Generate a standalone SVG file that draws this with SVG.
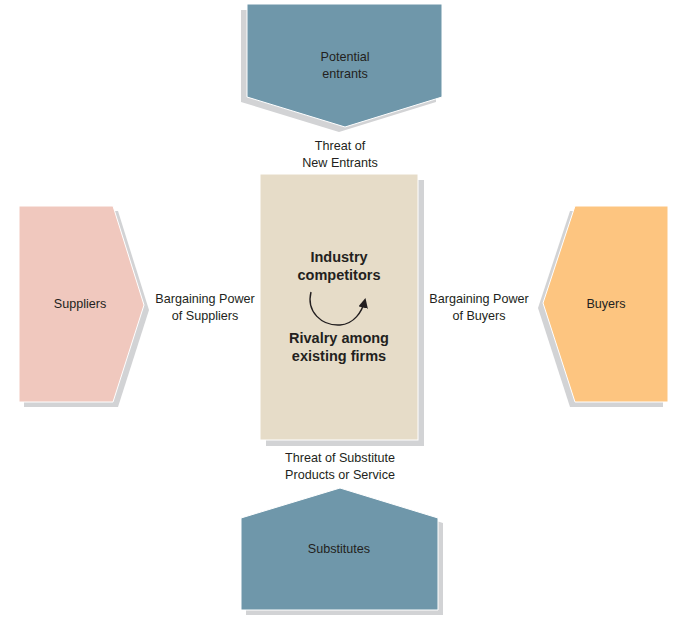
<svg xmlns="http://www.w3.org/2000/svg" width="685" height="620" viewBox="0 0 685 620">
<defs>
<style>
.shadow{fill:#d2d3d5}
.shape{stroke:#ffffff;stroke-width:1}
.lbl{font-family:"Liberation Sans",Arial,sans-serif;font-size:12.6px;fill:#231f20;text-anchor:middle}
.bold{font-family:"Liberation Sans",Arial,sans-serif;font-size:14.5px;font-weight:bold;fill:#231f20;text-anchor:middle}
.blue{fill:#6f97aa}
</style>
<marker id="ah" viewBox="0 0 10 10" refX="8" refY="5" markerWidth="7" markerHeight="7" orient="auto">
<path d="M0,0 L10,5 L0,10 z" fill="#231f20"/>
</marker>
</defs>
<rect width="685" height="620" fill="#ffffff"/>

<g id="potential-entrants">
<polygon class="shadow" points="241,10 436,10 436,102 339,132 241,102"/>
<polygon class="blue shape" points="247,4 442,4 442,97 345,127 247,97"/>
<text class="lbl" x="345" y="61">Potential</text>
<text class="lbl" x="345" y="78">entrants</text>
</g>

<g id="suppliers">
<polygon class="shadow" points="24,211 118,211 149,310 118,407 24,407"/>
<polygon class="shape" fill="#f0c8be" points="19,206 113,206 144,305 113,402 19,402"/>
<text class="lbl" x="80" y="308">Suppliers</text>
</g>

<g id="buyers">
<polygon class="shadow" points="570,211 663,211 663,407 570,407 538,308"/>
<polygon class="shape" fill="#fdc580" points="575,206 668,206 668,402 575,402 543,303"/>
<text class="lbl" x="606" y="308">Buyers</text>
</g>

<g id="industry-competitors">
<rect class="shadow" x="266" y="180" width="158" height="266"/>
<rect class="shape" fill="#e6dcc8" x="260" y="174" width="158" height="266"/>
<text class="bold" x="339" y="262">Industry</text>
<text class="bold" x="339" y="280">competitors</text>
<text class="bold" x="339" y="343">Rivalry among</text>
<text class="bold" x="339" y="361">existing firms</text>
</g>

<g id="substitutes">
<polygon class="shadow" points="246,523 345,493 443,523 443,615 246,615"/>
<polygon class="blue shape" points="241,518 340,488 438,518 438,610 241,610"/>
<text class="lbl" x="339" y="553">Substitutes</text>
</g>

<g id="connectors">
<path d="M311,292 C306,312 322,326 340,325 C354,324 362,312 365,300" fill="none" stroke="#231f20" stroke-width="1.4" marker-end="url(#ah)"/>
<text class="lbl" x="340" y="150">Threat of</text>
<text class="lbl" x="340" y="167">New Entrants</text>
<text class="lbl" x="205" y="303">Bargaining Power</text>
<text class="lbl" x="205" y="320">of Suppliers</text>
<text class="lbl" x="479" y="303">Bargaining Power</text>
<text class="lbl" x="479" y="320">of Buyers</text>
<text class="lbl" x="340" y="462">Threat of Substitute</text>
<text class="lbl" x="340" y="479">Products or Service</text>
</g>
</svg>
